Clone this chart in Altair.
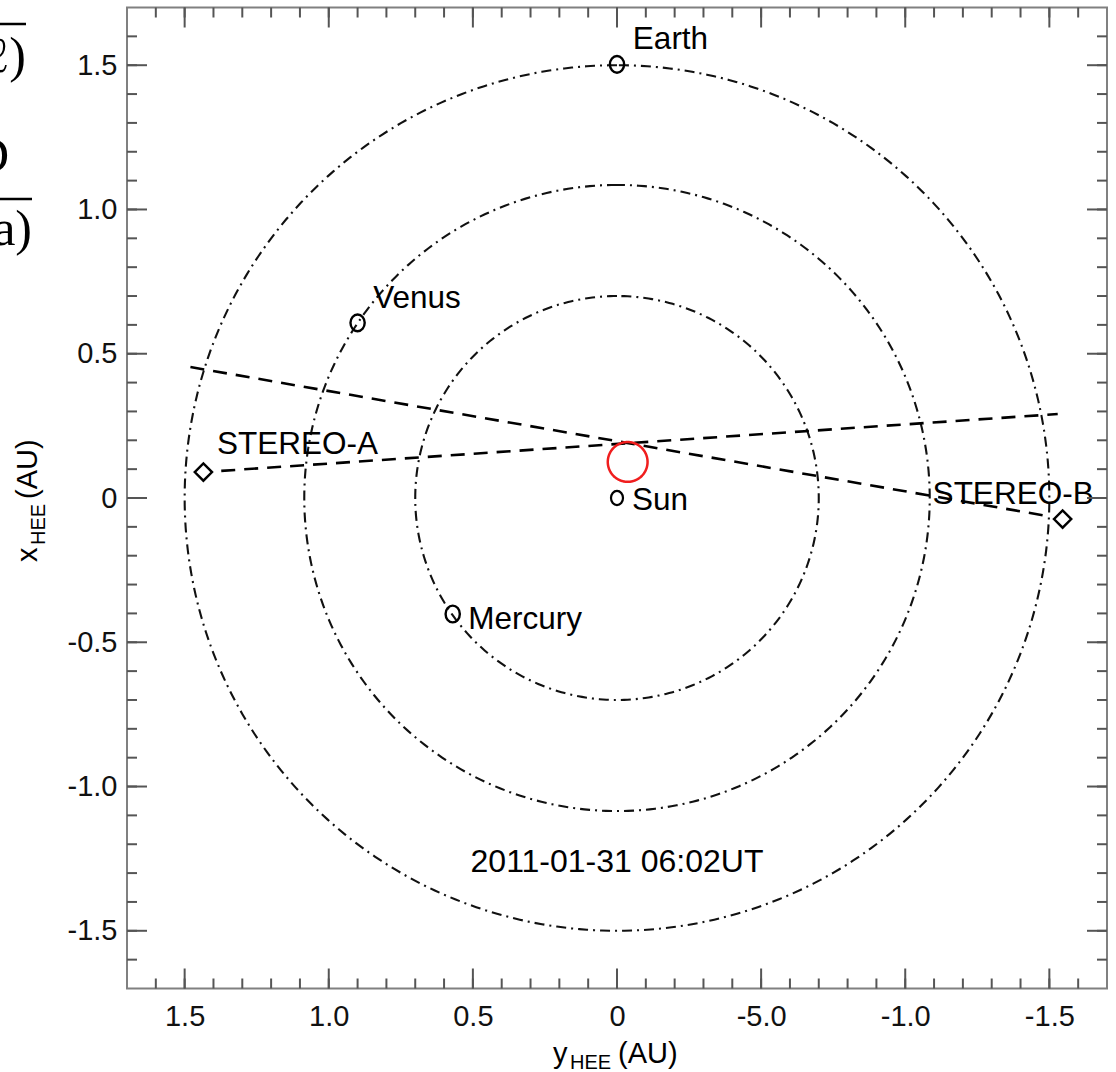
import altair as alt
import numpy as np
import pandas as pd

# ---- plot geometry -------------------------------------------------------
W, H = 980, 981            # plot area in pixels
PAD_L, PAD_T = 127, 7.5    # offset of the plot area on the page
LIMIT = 1.7                # axis half-range in AU
FONT = "Liberation Sans"

# ---- data (AU) -----------------------------------------------------------
orbit_names = ["Mercury", "Venus", "Earth"]
orbit_radius = [0.70, 1.085, 1.50]

planet_names = ["Earth", "Venus", "Mercury"]
planet_y = [0.0, 0.900, 0.570]
planet_x = [1.503, 0.607, -0.402]

sun_y = [0.0]
sun_x = [0.0]

craft_names = ["STEREO-A", "STEREO-B"]
craft_y = [1.435, -1.546]
craft_x = [0.090, -0.073]

# lines of sight (two end points each)
sight_ids = ["A", "A", "B", "B"]
sight_y = [1.373, -1.529, 1.480, -1.490]
sight_x = [0.094, 0.291, 0.454, -0.062]

# source region marked in red
event_y = [-0.037]
event_x = [0.125]
event_r = [0.069]

label_text = ["Earth", "Venus", "Mercury", "Sun", "STEREO-A", "STEREO-B"]
label_y = [-0.055, 0.846, 0.516, -0.052, 1.388, -1.095]
label_x = [1.588, 0.690, -0.423, -0.010, 0.184, 0.012]

stamp_text = ["2011-01-31 06:02UT"]
stamp_y = [0.0]
stamp_x = [-1.262]

major_ticks = [-1.5, -1.0, -0.5, 0.0, 0.5, 1.0, 1.5]
x_tick_labels = ["-1.5", "-1.0", "-5.0", "0", "0.5", "1.0", "1.5"]
y_tick_labels = ["-1.5", "-1.0", "-0.5", "0", "0.5", "1.0", "1.5"]
minor_ticks = np.round(np.arange(-16, 17) / 10, 1)

# ---- derived tables ------------------------------------------------------
theta = np.radians(np.arange(0, 361, 1))
orbit_df = pd.concat(
    [pd.DataFrame({"orbit": n, "i": np.arange(theta.size),
                   "y": r * np.sin(theta), "x": r * np.cos(theta)})
     for n, r in zip(orbit_names, orbit_radius)],
    ignore_index=True)

event_df = pd.DataFrame({"i": np.arange(theta.size),
                         "y": event_y[0] + event_r[0] * np.sin(theta),
                         "x": event_x[0] + event_r[0] * np.cos(theta)})

planet_df = pd.DataFrame({"name": planet_names, "y": planet_y, "x": planet_x})
sun_df = pd.DataFrame({"y": sun_y, "x": sun_x})
craft_df = pd.DataFrame({"name": craft_names, "y": craft_y, "x": craft_x})
sight_df = pd.DataFrame({"id": sight_ids, "i": range(len(sight_ids)),
                         "y": sight_y, "x": sight_x})
label_df = pd.DataFrame({"t": label_text, "y": label_y, "x": label_x})
stamp_df = pd.DataFrame({"t": stamp_text, "y": stamp_y, "x": stamp_x})
major_df = pd.DataFrame({"y": major_ticks, "x": major_ticks})
minor_df = pd.DataFrame({"y": minor_ticks, "x": minor_ticks})


def label_expr(values, labels):
    expr = "''"
    for v, s in reversed(list(zip(values, labels))):
        expr = f"abs(datum.value - ({v})) < 0.01 ? '{s}' : ({expr})"
    return expr


x_scale = alt.Scale(domain=[LIMIT, -LIMIT], nice=False, zero=False)
y_scale = alt.Scale(domain=[-LIMIT, LIMIT], nice=False, zero=False)

x_axis = alt.Axis(values=major_ticks, labelExpr=label_expr(major_ticks, x_tick_labels),
                  ticks=False, domain=False, grid=False, title=None,
                  labelFont=FONT, labelFontSize=29, labelColor="#111",
                  labelPadding=14, labelOverlap=False, labelFlush=False)
y_axis = alt.Axis(values=major_ticks, labelExpr=label_expr(major_ticks, y_tick_labels),
                  ticks=False, domain=False, grid=False, title=None,
                  labelFont=FONT, labelFontSize=29, labelColor="#111",
                  labelPadding=10, labelOverlap=False, labelFlush=False)


def X():
    return alt.X("y:Q", scale=x_scale, axis=x_axis)


def Y():
    return alt.Y("x:Q", scale=y_scale, axis=y_axis)


# ---- layers --------------------------------------------------------------
orbits = alt.Chart(orbit_df).mark_line(
    color="#111", strokeWidth=2.1, strokeDash=[10, 5, 2, 5]
).encode(x=X(), y=Y(), detail="orbit:N", order="i:Q")

sights = alt.Chart(sight_df).mark_line(
    color="black", strokeWidth=2.6, strokeDash=[14, 9]
).encode(x=X(), y=Y(), detail="id:N", order="i:Q")

event = alt.Chart(event_df).mark_line(
    color="#f01e1e", strokeWidth=2.5
).encode(x=X(), y=Y(), order="i:Q")

ellipse = "M0,-1A0.85,1 0 1,1 0,1A0.85,1 0 1,1 0,-1Z"
planets = alt.Chart(planet_df).mark_point(
    shape=ellipse, size=280, filled=False, color="black", strokeWidth=2.4, opacity=1
).encode(x=X(), y=Y())

sun = alt.Chart(sun_df).mark_point(
    shape=ellipse, size=200, filled=False, color="black", strokeWidth=2.2, opacity=1
).encode(x=X(), y=Y())

crafts = alt.Chart(craft_df).mark_point(
    shape="diamond", size=300, filled=False, color="black", strokeWidth=2.4, opacity=1
).encode(x=X(), y=Y())

labels = alt.Chart(label_df).mark_text(
    align="left", baseline="middle", font=FONT, fontSize=31.5, color="black"
).encode(x=X(), y=Y(), text="t:N")

stamp = alt.Chart(stamp_df).mark_text(
    align="center", baseline="middle", font=FONT, fontSize=32, color="black"
).encode(x=X(), y=Y(), text="t:N")

TICK = "#555"
ticks = []
for df, length in ((minor_df, 10), (major_df, 20)):
    base = alt.Chart(df).mark_rule(color=TICK, strokeWidth=2)
    ticks += [
        base.encode(x=X(), y=alt.value(H), y2=alt.value(H - length)),
        base.encode(x=X(), y=alt.value(0), y2=alt.value(length)),
        base.encode(y=Y(), x=alt.value(0), x2=alt.value(length)),
        base.encode(y=Y(), x=alt.value(W), x2=alt.value(W - length)),
    ]


def page_text(text, px, py, size, angle=0, align="left", baseline="alphabetic",
              font=FONT):
    """Text placed in page pixels (converted to plot-area coordinates)."""
    return alt.Chart(pd.DataFrame({"t": [text]})).mark_text(
        align=align, baseline=baseline, font=font, fontSize=size,
        angle=angle, color="black"
    ).encode(x=alt.value(px - PAD_L), y=alt.value(py - PAD_T), text="t:N")


def page_rule(px1, px2, py, width=2.5):
    return alt.Chart(pd.DataFrame({"a": [0]})).mark_rule(
        color="black", strokeWidth=width
    ).encode(x=alt.value(px1 - PAD_L), x2=alt.value(px2 - PAD_L),
             y=alt.value(py - PAD_T))


# axis titles with subscripts
titles = [
    page_text("y", 553, 1063, 29),
    page_text("HEE", 570, 1069, 20),
    page_text("(AU)", 618, 1063, 29),
    page_text("x", 37, 562, 29, angle=270),
    page_text("HEE", 45, 545, 20, angle=270),
    page_text("(AU)", 37, 499, 29, angle=270),
]

# pieces of the neighbouring equations at the left page edge
SERIF = "Liberation Serif"
margin_bits = [
    page_rule(0, 26, 24),
    page_text("\u2113)", 26, 57, 50, align="right", baseline="middle", font=SERIF),
    page_text("D", 9, 157, 50, align="right", baseline="middle", font=SERIF),
    page_rule(0, 32, 199),
    page_text("a)", 32, 230, 50, align="right", baseline="middle", font=SERIF),
]

chart = alt.layer(
    orbits, sights, event, planets, sun, crafts, labels, stamp,
    *ticks, *titles, *margin_bits
).properties(
    width=W, height=H,
    autosize=alt.AutoSizeParams(type="none"),
    padding={"left": PAD_L, "top": PAD_T, "right": 1116 - PAD_L - W,
             "bottom": 1072 - PAD_T - H},
    background="white",
).configure_view(stroke="#808080", strokeWidth=2)

chart.save("out.html", embed_options={"renderer": "svg", "actions": False})
